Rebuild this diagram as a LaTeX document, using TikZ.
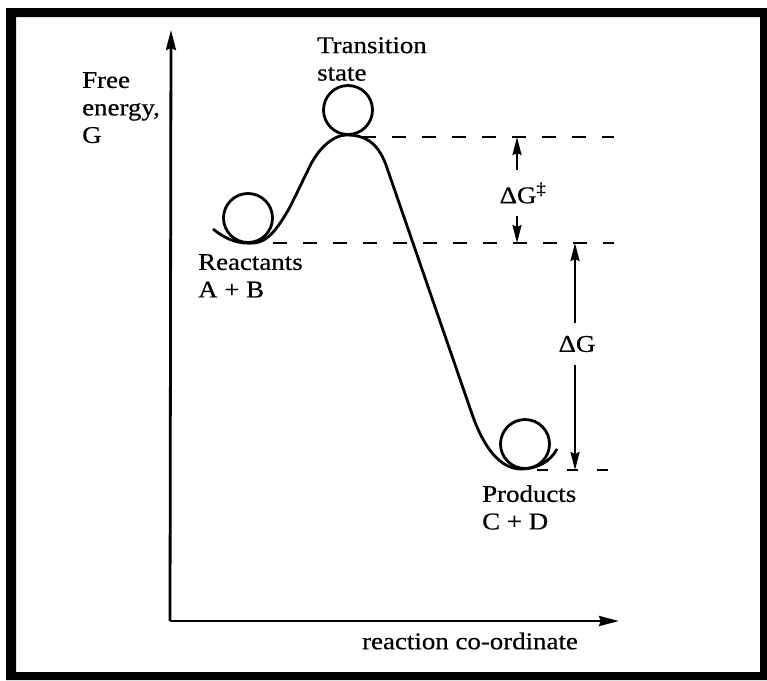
\documentclass[tikz,border=0pt]{standalone}
\usepackage{fontspec}
\setmainfont{Liberation Serif}[FakeStretch=1.12, FakeBold=0.6]
\usetikzlibrary{arrows.meta}
\tikzset{
  lbl/.style={inner sep=0pt, align=left, font=\fontsize{24}{27.5}\selectfont},
  axisline/.style={line width=2.8pt, -{Stealth[length=20pt,width=10pt,inset=2pt]}},
  curveline/.style={line width=2.8pt, line join=round},
  ballline/.style={line width=2.8pt},
  levelline/.style={line width=2.4pt, dash pattern=on 14pt off 16pt},
  gaparrow/.style={line width=2.4pt, -{Stealth[length=18pt,width=9pt,inset=2pt]}},
}
\begin{document}
\begin{tikzpicture}[x=1pt,y=-1pt]
\useasboundingbox (0,0) rectangle (767,680);
% frame
\fill[black, even odd rule] (6,8) rectangle (767,680) (16,17) rectangle (760,672);

% axes
\coordinate (origin) at (170,621);
\coordinate (ytip) at (171,30);
\coordinate (xtip) at (619,621);
\draw[axisline] (origin) -- (ytip);
\draw[axisline] (origin) -- (xtip);

% energy profile
\coordinate (r0) at (213,229);
\coordinate (rb) at (254,243);
\coordinate (r1) at (290,207);
\coordinate (r2) at (310,166);
\coordinate (ts) at (347,135);
\coordinate (s1) at (386,165);
\coordinate (s2) at (472,414);
\coordinate (pb) at (520,469);
\coordinate (p0) at (557,449);
\draw[curveline] (r0) .. controls (228,241) and (240,244) .. (rb)
  .. controls (268,242) and (278,228) .. (r1) -- (r2)
  .. controls (317,151.6) and (331,135) .. (ts)
  .. controls (362,135) and (377,140) .. (s1) -- (s2)
  .. controls (480,437) and (495,468) .. (pb)
  .. controls (537,469) and (550,462) .. (p0);

% balls
\draw[ballline] (248,218) circle[radius=24.5];
\draw[ballline] (348,110) circle[radius=24.5];
\draw[ballline] (525,444) circle[radius=24.5];

% level lines
\coordinate (d1a) at (362,137);
\coordinate (d1b) at (614,137);
\coordinate (d2a) at (273,243);
\coordinate (d2b) at (614,243);
\coordinate (d3a) at (537,470);
\coordinate (d3b) at (614,470);
\draw[levelline] (d1a) -- (d1b);
\draw[levelline] (d2a) -- (d2b);
\draw[levelline, dash pattern=on 11pt off 19pt] (d3a) -- (d3b);

% Delta G double dagger
\node[lbl, anchor=center] (dgts) at (523,193) {ΔG\textsuperscript{‡}};
\coordinate (a1s) at (517,170);
\coordinate (a1t) at (517,137);
\coordinate (a2s) at (517,216);
\coordinate (a2t) at (517,243);
\draw[gaparrow] (a1s) -- (a1t);
\draw[gaparrow] (a2s) -- (a2t);

% Delta G
\node[lbl, anchor=center] (dg) at (577,344) {ΔG};
\coordinate (b1s) at (575,323);
\coordinate (b1t) at (575,243);
\coordinate (b2s) at (575,365);
\coordinate (b2t) at (575,470);
\draw[gaparrow] (b1s) -- (b1t);
\draw[gaparrow] (b2s) -- (b2t);

% labels
\node[lbl, anchor=north west] (ylab) at (82,72) {Free\\energy,\\G};
\node[lbl, anchor=north west] (tslab) at (317,37) {Transition\\state};
\node[lbl, anchor=north west] (rlab) at (198,254) {Reactants\\A + B};
\node[lbl, anchor=north west] (plab) at (482,485) {Products\\C + D};
\node[lbl, anchor=center] (xlab) at (470,641) {reaction co-ordinate};
\end{tikzpicture}
\end{document}
